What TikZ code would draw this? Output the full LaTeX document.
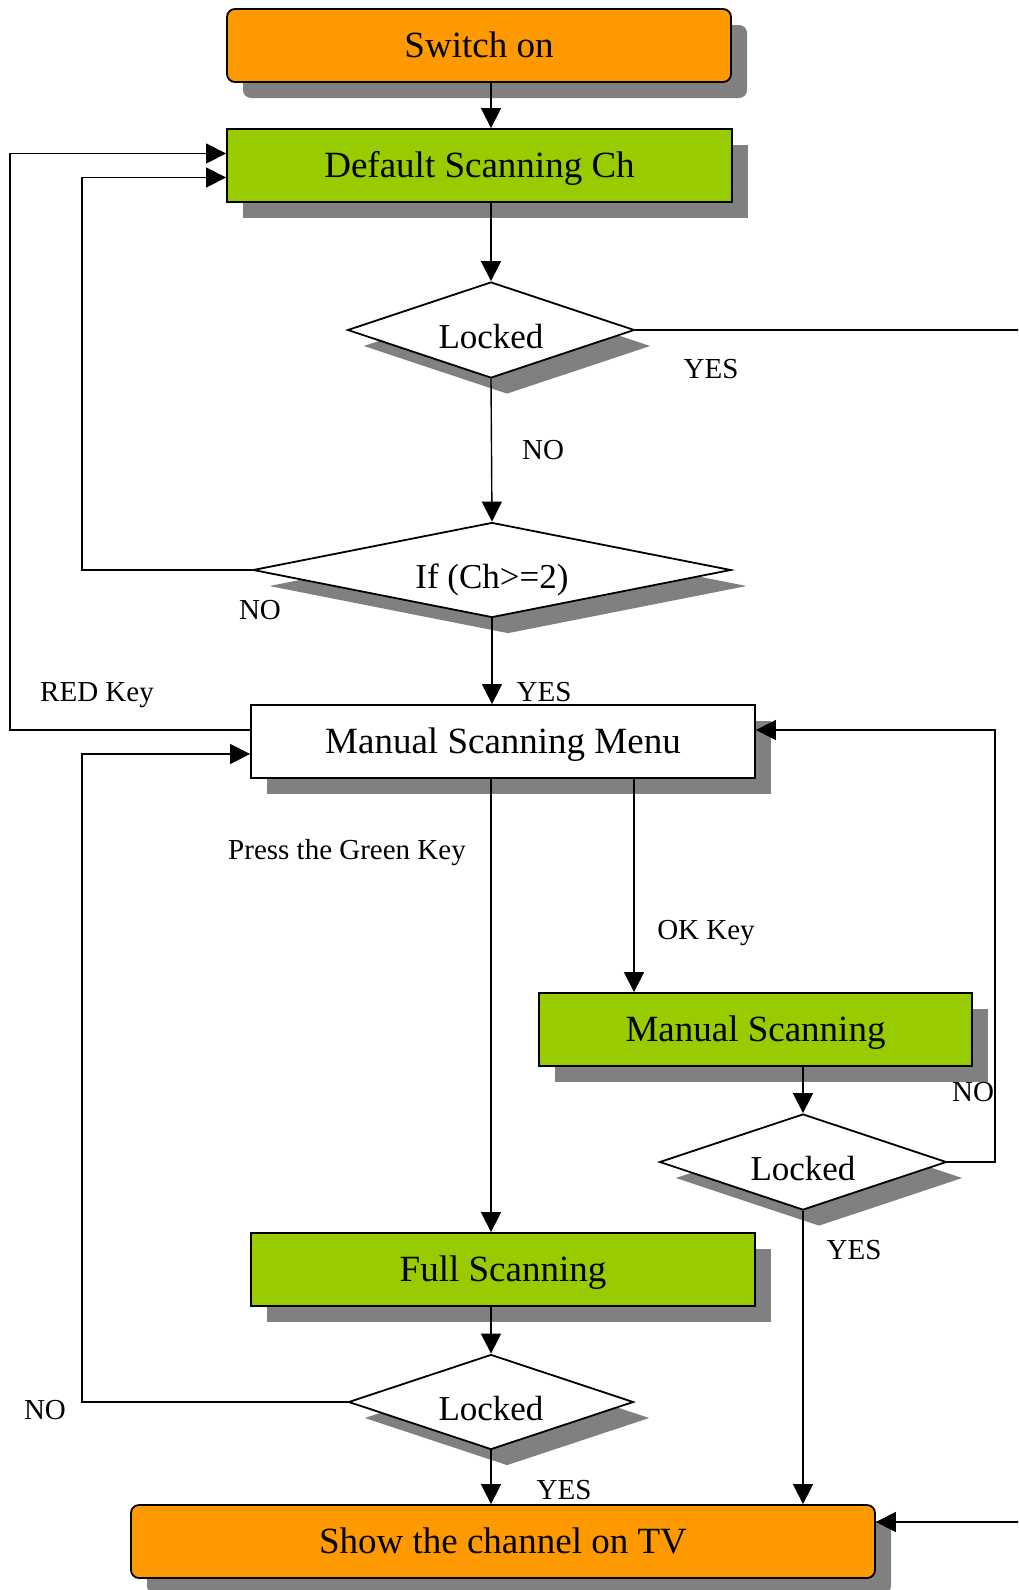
\documentclass[tikz,border=0pt]{standalone}
\usepackage{fontspec}
\setmainfont{Liberation Serif}
\usetikzlibrary{shapes.geometric,shadows,arrows.meta,calc}
\definecolor{orng}{HTML}{FF9900}
\definecolor{grn}{HTML}{99CC00}
\definecolor{shd}{HTML}{808080}
\begin{document}
\begin{tikzpicture}[x=1pt,y=-1pt,
  shdw/.style={drop shadow={shadow xshift=16pt,shadow yshift=-16pt,fill=shd,opacity=1}},
  boxn/.style={draw,line width=1.8pt,minimum height=73pt,inner sep=0pt,
    font=\fontsize{37}{39}\selectfont,text height=24pt,text depth=0pt,shdw},
  startbox/.style={boxn,rounded corners=8pt,fill=orng},
  procbox/.style={boxn,fill=grn},
  menubox/.style={boxn,fill=white},
  dia/.style={diamond,draw,fill=white,line width=1.8pt,inner sep=0pt,shdw},
  diatext/.style={font=\fontsize{35}{37}\selectfont,inner sep=0pt,text height=23pt,text depth=0pt,yshift=-6.5pt},
  arr/.style={line width=1.4pt,-{Triangle[length=20pt,width=20pt]}},
  ln/.style={line width=1.4pt},
  lbl/.style={font=\fontsize{29}{31}\selectfont,inner sep=0pt,text height=19pt,text depth=0pt}]
\useasboundingbox (0,0) rectangle (1018,1590);
\clip (0,0) rectangle (1018,1590);
\fill[white] (0,0) rectangle (1018,1590);

% columns
\coordinate (c10) at (10,0);
\coordinate (c82) at (82,0);
\coordinate (c634) at (634,0);
\coordinate (c995) at (995,0);
\coordinate (cR) at (1022,0);

% nodes
\node[startbox,minimum width=504pt] (sw) at (479,45.5) {Switch on};
\node[procbox,minimum width=505pt] (dsc) at (479.5,165.5) {Default Scanning Ch};
\node[dia,minimum width=287pt,minimum height=96pt,label={[diatext]center:Locked}] (lk1) at (491,330) {};
\node[dia,minimum width=478pt,minimum height=95pt,label={[diatext]center:If (Ch>=2)}] (ifc) at (492,570) {};
\node[menubox,minimum width=504pt] (msm) at (503,741.5) {Manual Scanning Menu};
\node[procbox,minimum width=433pt] (ms) at (755.5,1029.5) {Manual Scanning};
\node[dia,minimum width=287pt,minimum height=96pt,label={[diatext]center:Locked}] (lk2) at (803,1162) {};
\node[procbox,minimum width=504pt] (fs) at (503,1269.5) {Full Scanning};
\node[dia,minimum width=285pt,minimum height=95pt,label={[diatext]center:Locked}] (lk3) at (491,1402) {};
\node[startbox,minimum width=744pt] (show) at (503,1541.5) {Show the channel on TV};

% entry points
\coordinate (d1) at ($(dsc.west)+(0,-12)$);
\coordinate (d2) at ($(dsc.west)+(0,12)$);
\coordinate (m1) at ($(msm.west)+(0,-11.5)$);
\coordinate (m2) at ($(msm.west)+(0,12.5)$);
\coordinate (m1e) at ($(msm.east)+(0,-11.5)$);
\coordinate (se) at ($(show.east)+(0,-19.5)$);

% connectors
\draw[arr] (sw.south -| lk1.center) -- (dsc.north -| lk1.center);
\draw[arr] (dsc.south -| lk1.north) -- (lk1.north);
\draw[arr] (lk1.south) -- (ifc.north);
\draw[arr] (ifc.south) -- (msm.north -| ifc.south);
\draw[arr] (ifc.west) -- (ifc.west -| c82) |- (d2);
\draw[arr] (m1) -- (m1 -| c10) |- (d1);
\draw[arr] (lk3.west) -- (lk3.west -| c82) |- (m2);
\draw[arr] (msm.south -| lk3.north) -- (fs.north -| lk3.north);
\draw[arr] (msm.south -| c634) -- (ms.north -| c634);
\draw[arr] (ms.south -| lk2.north) -- (lk2.north);
\draw[arr] (lk2.east) -- (lk2.east -| c995) |- (m1e);
\draw[arr] (lk2.south) -- (show.north -| lk2.south);
\draw[arr] (fs.south -| lk3.north) -- (lk3.north);
\draw[arr] (lk3.south) -- (show.north -| lk3.south);
\draw[ln] (lk1.east) -- (lk1.east -| cR);
\draw[arr] (se -| cR) -- (se);

% labels
\node[lbl] (l1) at (711,369) {YES};
\node[lbl] (l2) at (543,450) {NO};
\node[lbl] (l3) at (260,610) {NO};
\node[lbl] (l4) at (97,692) {RED Key};
\node[lbl] (l5) at (544,692) {YES};
\node[lbl] (l6) at (347,850) {Press the Green Key};
\node[lbl] (l7) at (706,930) {OK Key};
\node[lbl] (l8) at (973,1092) {NO};
\node[lbl] (l9) at (854,1250) {YES};
\node[lbl] (l10) at (45,1410) {NO};
\node[lbl] (l11) at (564,1490) {YES};
\end{tikzpicture}
\end{document}
